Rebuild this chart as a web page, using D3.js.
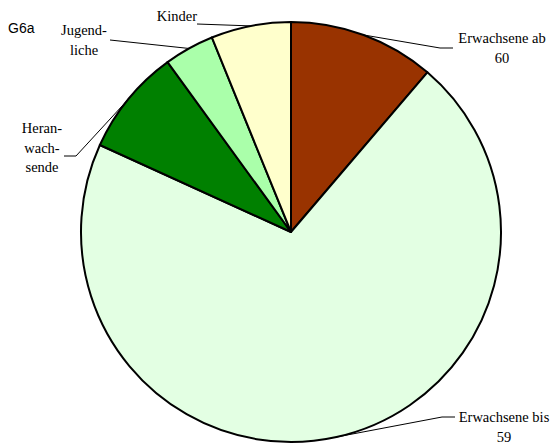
<!DOCTYPE html>
<html>
<head>
<meta charset="utf-8">
<script src="https://cdn.jsdelivr.net/npm/d3@7"></script>
<style>
  body { margin: 0; background: #fff; }
  svg { display: block; }
</style>
</head>
<body>
<div id="chart"></div>
<script>
const width = 553;
const height = 444;

// Anteile der Altersgruppen (%), im Uhrzeigersinn ab 12 Uhr
const categories = ["Erwachsene ab 60", "Erwachsene bis 59", "Heranwachsende", "Jugendliche", "Kinder"];
const values = [11.25, 70.55, 8.2, 3.85, 6.15];
const colors = ["#993300", "#e3ffe3", "#008000", "#aaffaa", "#ffffcc"];

// Beschriftungen (Zeilen) je Kategorie
const labelLines = [
  ["Erwachsene ab", "60"],
  ["Erwachsene bis", "59"],
  ["Heran-", "wach-", "sende"],
  ["Jugend-", "liche"],
  ["Kinder"]
];

const cx = 291, cy = 232, radius = 210;

// Position der Beschriftung und Knick der Führungslinie
const labelPos = [
  { x: 502, y: 43, bend: [[453, 48], [440, 48]] },
  { x: 504, y: 422, bend: [[455, 417], [442, 417]] },
  { x: 42, y: 133, bend: [[64, 156], [76, 156]] },
  { x: 84, y: 35, bend: [[110, 40]] },
  { x: 177, y: 21, bend: [[197, 24]] }
];

const svg = d3.select("#chart")
  .append("svg")
  .attr("width", width)
  .attr("height", height);

const pie = d3.pie().sort(null).value(d => d);
const arcs = pie(values);
const arc = d3.arc().innerRadius(0).outerRadius(radius);

const g = svg.append("g").attr("transform", `translate(${cx},${cy})`);

g.selectAll("path")
  .data(arcs)
  .enter()
  .append("path")
  .attr("d", arc)
  .attr("fill", (d, i) => colors[i])
  .attr("stroke", "#000")
  .attr("stroke-width", 2)
  .attr("stroke-linejoin", "round");

// Führungslinien zum Rand des Segments (Mitte des Winkels)
const line = d3.line();
arcs.forEach((d, i) => {
  const a = (d.startAngle + d.endAngle) / 2;
  const edge = [cx + radius * Math.sin(a), cy - radius * Math.cos(a)];
  const pts = labelPos[i].bend.concat([edge]);
  svg.append("path")
    .attr("d", line(pts))
    .attr("fill", "none")
    .attr("stroke", "#000")
    .attr("stroke-width", 1);
});

// Beschriftungen
labelLines.forEach((lines, i) => {
  const t = svg.append("text")
    .attr("x", labelPos[i].x)
    .attr("y", labelPos[i].y)
    .attr("text-anchor", "middle")
    .style("font-family", "'Liberation Serif', 'Times New Roman', serif")
    .style("font-size", "14.5px")
    .attr("fill", "#000");
  lines.forEach((s, j) => {
    t.append("tspan")
      .attr("x", labelPos[i].x)
      .attr("dy", j === 0 ? 0 : 19.5)
      .text(s);
  });
});

svg.append("text")
  .attr("x", 8)
  .attr("y", 33)
  .style("font-family", "'Liberation Sans', Arial, sans-serif")
  .style("font-size", "14px")
  .text("G6a");
</script>
</body>
</html>
